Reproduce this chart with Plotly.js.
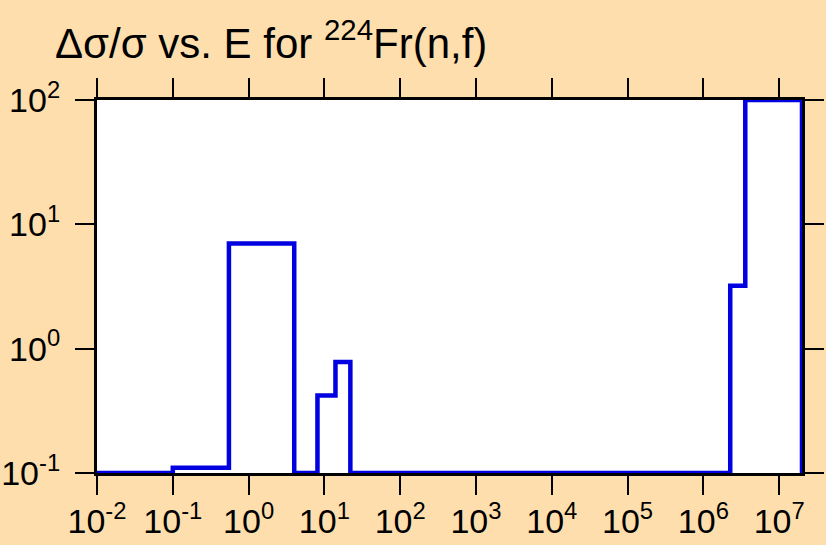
<!DOCTYPE html>
<html>
<head>
<meta charset="utf-8">
<script src="https://cdn.plot.ly/plotly-3.0.1.min.js"></script>
<style>html,body{margin:0;padding:0;background:#FFDEAD;}</style>
</head>
<body>
<div id="chart" style="width:826px;height:545px;"></div>
<script>
// Step edges (energy, eV) and relative uncertainty values
const energyEdges = [0.01, 0.1, 0.55, 4.0, 8.1, 14, 22, 2.26e6, 3.57e6, 2e7, 2e7];
const relUncert   = [0.1, 0.11, 7.0, 0.1, 0.42, 0.78, 0.1, 3.2, 100, 100, 0.1];

const xTickVals = [1e-2, 1e-1, 1e0, 1e1, 1e2, 1e3, 1e4, 1e5, 1e6, 1e7];
const xTickText = ['10<sup>-2</sup>', '10<sup>-1</sup>', '10<sup>0</sup>', '10<sup>1</sup>', '10<sup>2</sup>',
                   '10<sup>3</sup>', '10<sup>4</sup>', '10<sup>5</sup>', '10<sup>6</sup>', '10<sup>7</sup>'];
const yTickVals = [1e-1, 1e0, 1e1, 1e2];
const yTickText = ['10<sup>-1</sup>', '10<sup>0</sup>', '10<sup>1</sup>', '10<sup>2</sup>'];

const trace = {
  x: energyEdges,
  y: relUncert,
  type: 'scatter',
  mode: 'lines',
  line: {shape: 'hv', color: '#0000E0', width: 4.5},
  hoverinfo: 'skip'
};

const axisCommon = {
  type: 'log',
  showgrid: false,
  zeroline: false,
  showline: true,
  linecolor: 'black',
  linewidth: 3,
  mirror: 'ticks',
  ticks: 'outside',
  ticklen: 19,
  tickwidth: 2,
  tickcolor: 'black',
  tickmode: 'array',
  layer: 'below traces',
  tickfont: {family: 'Liberation Sans, Arial, sans-serif', size: 34, color: 'black'}
};

const layout = {
  width: 826,
  height: 545,
  paper_bgcolor: '#FFDEAD',
  plot_bgcolor: 'white',
  margin: {l: 97, r: 24, t: 100, b: 72},
  showlegend: false,
  title: {
    text: 'Δσ/σ vs. E for <sup>224</sup>Fr(n,f)',
    font: {family: 'Liberation Sans, Arial, sans-serif', size: 42, color: 'black'},
    xref: 'container', yref: 'container',
    x: 55/826, xanchor: 'left',
    y: 1 - 43/545, yanchor: 'middle'
  },
  xaxis: Object.assign({}, axisCommon, {
    range: [-2, Math.log10(2e7)],
    tickvals: xTickVals, ticktext: xTickText,
    ticklabelstandoff: -3
  }),
  yaxis: Object.assign({}, axisCommon, {
    range: [-1, 2],
    tickvals: yTickVals, ticktext: yTickText,
    ticklabelstandoff: 8
  })
};

Plotly.newPlot('chart', [trace], layout, {displayModeBar: false, staticPlot: true});
</script>
</body>
</html>
